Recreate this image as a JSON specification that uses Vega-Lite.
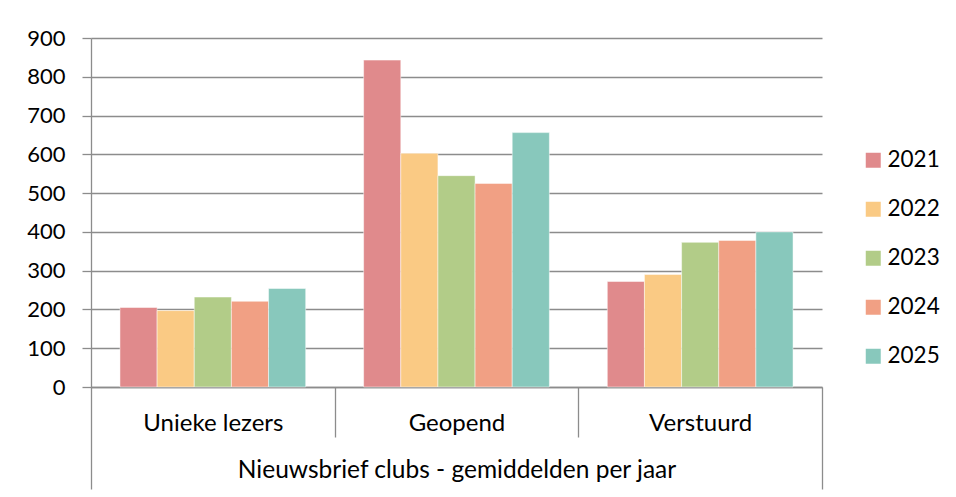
{
  "$schema": "https://vega.github.io/schema/vega-lite/v6.json",
  "autosize": "none",
  "padding": {"left": 91, "top": 38, "right": 134, "bottom": 110},
  "width": 731,
  "height": 349,
  "background": "white",
  "data": {
    "values": [
      {"categorie": "Unieke lezers", "jaar": "2021", "waarde": 205},
      {"categorie": "Unieke lezers", "jaar": "2022", "waarde": 197},
      {"categorie": "Unieke lezers", "jaar": "2023", "waarde": 232},
      {"categorie": "Unieke lezers", "jaar": "2024", "waarde": 221},
      {"categorie": "Unieke lezers", "jaar": "2025", "waarde": 254},
      {"categorie": "Geopend", "jaar": "2021", "waarde": 843},
      {"categorie": "Geopend", "jaar": "2022", "waarde": 603},
      {"categorie": "Geopend", "jaar": "2023", "waarde": 545},
      {"categorie": "Geopend", "jaar": "2024", "waarde": 525},
      {"categorie": "Geopend", "jaar": "2025", "waarde": 656},
      {"categorie": "Verstuurd", "jaar": "2021", "waarde": 272},
      {"categorie": "Verstuurd", "jaar": "2022", "waarde": 290},
      {"categorie": "Verstuurd", "jaar": "2023", "waarde": 373},
      {"categorie": "Verstuurd", "jaar": "2024", "waarde": 378},
      {"categorie": "Verstuurd", "jaar": "2025", "waarde": 400}
    ]
  },
  "mark": {"type": "bar", "stroke": "white", "strokeWidth": 0.8, "strokeOpacity": 0.6},
  "encoding": {
    "x": {
      "field": "categorie",
      "type": "nominal",
      "sort": ["Unieke lezers", "Geopend", "Verstuurd"],
      "scale": {"paddingInner": 0, "paddingOuter": 0},
      "title": "Nieuwsbrief clubs - gemiddelden per jaar",
      "axis": {
        "labelAngle": 0,
        "tickBand": "extent",
        "tickSize": {"condition": {"test": "datum.value !== 'Unieke lezers' && datum.value !== 'Geopend'", "value": 102}, "value": 50},
        "tickColor": "#8c8c8c",
        "tickWidth": 1.3,
        "domainColor": "#8c8c8c",
        "domainWidth": 1.3,
        "labelPadding": {"condition": {"test": "datum.value === 'Verstuurd'", "value": -78}, "value": -26},
        "labelFont": "Lato",
        "labelFontSize": 24,
        "labelColor": "#000000",
        "titleFont": "Lato",
        "titleFontSize": 24.5,
        "titleFontWeight": "normal",
        "titleColor": "#000000",
        "titleY": 90,
        "titleBaseline": "alphabetic"
      }
    },
    "xOffset": {
      "field": "jaar",
      "type": "nominal",
      "scale": {"paddingInner": 0, "paddingOuter": 0.78}
    },
    "y": {
      "field": "waarde",
      "type": "quantitative",
      "title": null,
      "scale": {"domain": [0, 900], "nice": false},
      "axis": {
        "values": [0, 100, 200, 300, 400, 500, 600, 700, 800, 900],
        "grid": true,
        "gridColor": "#8c8c8c",
        "gridWidth": 1.3,
        "domainColor": "#8c8c8c",
        "domainWidth": 1.3,
        "tickColor": "#8c8c8c",
        "tickWidth": 1.3,
        "tickSize": 9,
        "labelPadding": 17,
        "labelFont": "Lato",
        "labelFontSize": 22,
        "labelColor": "#000000"
      }
    },
    "color": {
      "field": "jaar",
      "type": "nominal",
      "scale": {
        "domain": ["2021", "2022", "2023", "2024", "2025"],
        "range": ["#E08A8C", "#FACA84", "#B2CC88", "#F1A084", "#88C8BC"]
      },
      "legend": {
        "title": null,
        "orient": "none",
        "legendX": 771,
        "legendY": 111,
        "symbolType": "square",
        "symbolSize": 225,
        "symbolStrokeWidth": 0,
        "labelFont": "Lato",
        "labelFontSize": 22.5,
        "labelColor": "#000000",
        "labelOffset": 3,
        "rowPadding": 26
      }
    }
  },
  "config": {
    "view": {"stroke": null}
  }
}
